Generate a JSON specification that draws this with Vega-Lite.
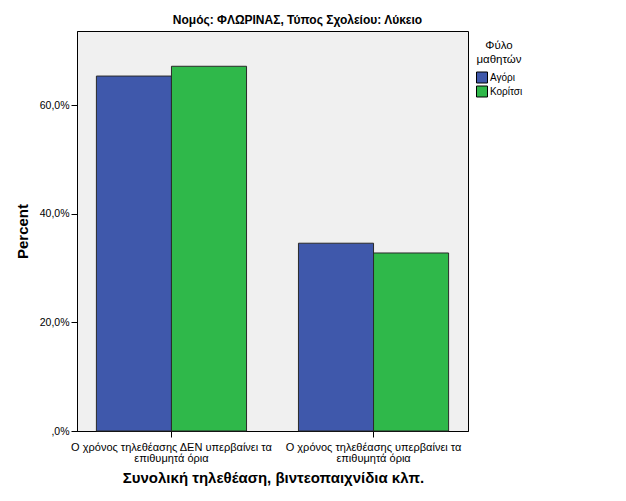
{
  "$schema": "https://vega.github.io/schema/vega-lite/v6.json",
  "autosize": {"type": "none"},
  "padding": {"left": 77, "top": 31, "right": 158, "bottom": 70},
  "width": 391,
  "height": 400,
  "background": "white",
  "config": {
    "font": "Liberation Sans",
    "view": {"fill": "#f0f0f0", "stroke": "#000000", "strokeWidth": 1}
  },
  "title": {
    "text": "Νομός: ΦΛΩΡΙΝΑΣ, Τύπος Σχολείου: Λύκειο",
    "font": "Liberation Sans",
    "fontSize": 12,
    "fontWeight": "bold",
    "color": "#000000",
    "anchor": "middle",
    "dx": 25,
    "offset": 4
  },
  "data": {
    "values": [
      {"category": "Ο χρόνος τηλεθέασης ΔΕΝ υπερβαίνει τα επιθυμητά όρια", "gender": "Αγόρι", "percent": 65.4},
      {"category": "Ο χρόνος τηλεθέασης ΔΕΝ υπερβαίνει τα επιθυμητά όρια", "gender": "Κορίτσι", "percent": 67.2},
      {"category": "Ο χρόνος τηλεθέασης υπερβαίνει τα επιθυμητά όρια", "gender": "Αγόρι", "percent": 34.6},
      {"category": "Ο χρόνος τηλεθέασης υπερβαίνει τα επιθυμητά όρια", "gender": "Κορίτσι", "percent": 32.8}
    ]
  },
  "mark": {"type": "bar", "stroke": "#2a2a2a", "strokeWidth": 1},
  "encoding": {
    "x": {
      "field": "category",
      "type": "nominal",
      "sort": null,
      "scale": {"paddingInner": 0.257, "paddingOuter": 0.096},
      "axis": {
        "title": "Συνολική τηλεθέαση, βιντεοπαιχνίδια κλπ.",
        "titleFont": "Liberation Sans",
        "titleFontSize": 15,
        "titleFontWeight": "bold",
        "titleColor": "#000000",
        "titleX": 196,
        "titleY": 51,
        "titleAlign": "center",
        "titleBaseline": "alphabetic",
        "labelAngle": 0,
        "labelFont": "Liberation Sans",
        "labelFontSize": 11,
        "labelColor": "#000000",
        "labelLineHeight": 11,
        "labelPadding": 4,
        "labelExpr": "[replace(datum.label, ' επιθυμητά όρια', ''), 'επιθυμητά όρια']",
        "labelLimit": 300,
        "domainColor": "#000000",
        "tickColor": "#000000",
        "tickSize": 6
      }
    },
    "xOffset": {
      "field": "gender",
      "type": "nominal",
      "sort": ["Αγόρι", "Κορίτσι"],
      "scale": {"paddingInner": 0, "paddingOuter": 0}
    },
    "y": {
      "field": "percent",
      "type": "quantitative",
      "scale": {"domain": [0, 73.7], "nice": false, "zero": true},
      "axis": {
        "title": "Percent",
        "titleFont": "Liberation Sans",
        "titleFontSize": 15,
        "titleFontWeight": "bold",
        "titleColor": "#000000",
        "titleX": -50,
        "titleY": 200,
        "titleAlign": "center",
        "titleBaseline": "alphabetic",
        "titleAngle": -90,
        "values": [0, 20, 40, 60],
        "labelExpr": "datum.value == 0 ? ',0%' : replace(format(datum.value, '.1f'), '.', ',') + '%'",
        "labelFont": "Liberation Sans",
        "labelFontSize": 10.5,
        "labelColor": "#000000",
        "labelPadding": 2,
        "grid": false,
        "domainColor": "#000000",
        "tickColor": "#000000",
        "tickSize": 6
      }
    },
    "color": {
      "field": "gender",
      "type": "nominal",
      "sort": ["Αγόρι", "Κορίτσι"],
      "scale": {"domain": ["Αγόρι", "Κορίτσι"], "range": ["#3f58ab", "#2fb84a"]},
      "legend": {
        "title": ["Φύλο", "μαθητών"],
        "orient": "none",
        "legendX": 399,
        "legendY": 9,
        "titleFont": "Liberation Sans",
        "titleFontSize": 11.5,
        "titleFontWeight": "normal",
        "titleColor": "#000000",
        "titleAlign": "center",
        "titleAnchor": "middle",
        "titleLineHeight": 14,
        "titlePadding": 6,
        "labelFont": "Liberation Sans",
        "labelFontSize": 10,
        "labelColor": "#000000",
        "labelOffset": 2,
        "symbolType": "square",
        "symbolSize": 121,
        "symbolStrokeColor": "#000000",
        "symbolStrokeWidth": 1,
        "symbolOffset": 0,
        "rowPadding": -2,
        "padding": 0
      }
    }
  }
}
